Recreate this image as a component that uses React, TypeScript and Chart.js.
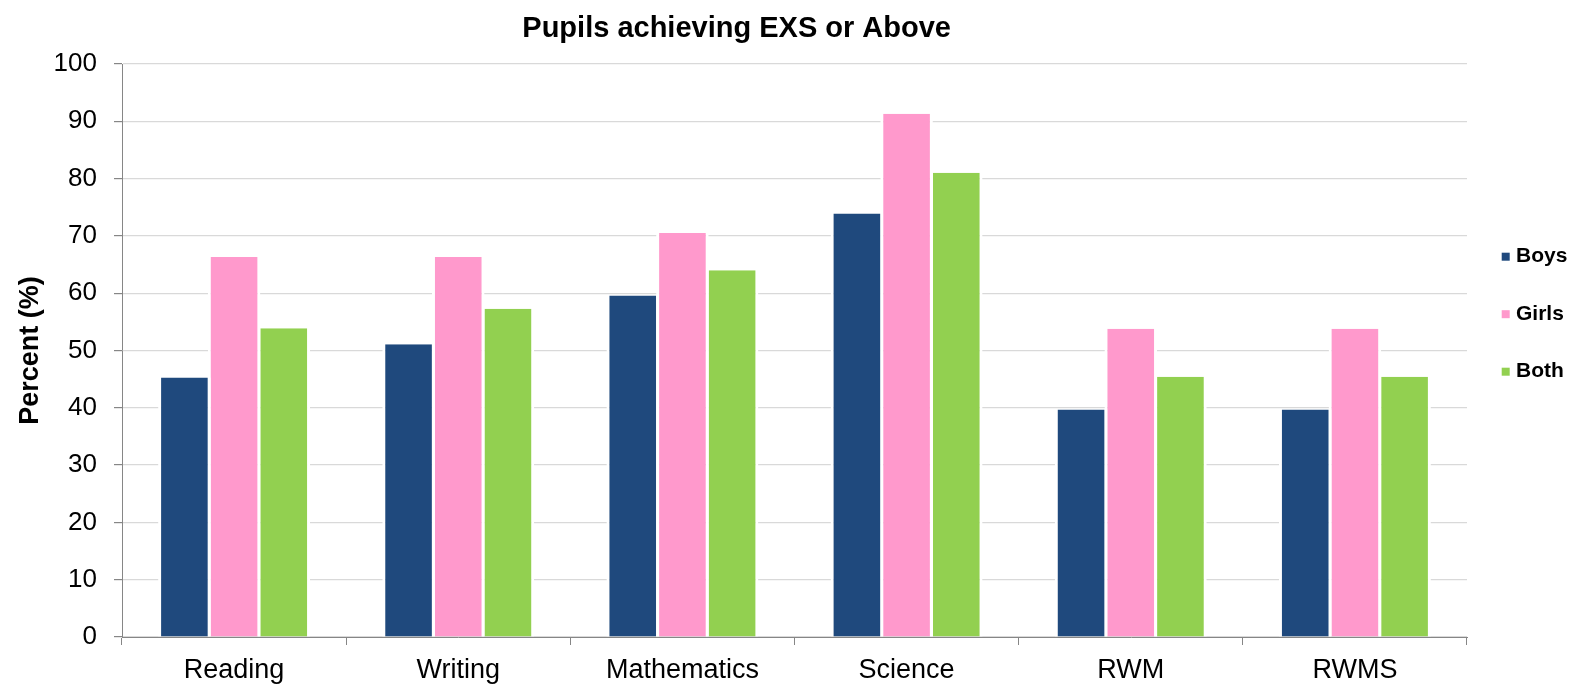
import React, { useEffect, useRef } from 'react';
import { Chart, registerables } from 'chart.js';

Chart.register(...registerables);

const categories = ['Reading', 'Writing', 'Mathematics', 'Science', 'RWM', 'RWMS'];
const boysValues = [45.3, 51.1, 59.6, 73.9, 39.7, 39.7];
const girlsValues = [66.3, 66.3, 70.5, 91.3, 53.8, 53.8];
const bothValues = [53.9, 57.3, 64.0, 81.0, 45.4, 45.4];
const seriesLabels = ['Boys', 'Girls', 'Both'];
const seriesColors = ['#1F497D', '#FF99CC', '#92D050'];
const yMin = 0;
const yMax = 100;
const yStep = 10;
const chartTitle = 'Pupils achieving EXS or Above';
const yAxisTitle = 'Percent (%)';

const FONT = '"Liberation Sans", Arial, Helvetica, sans-serif';
const AXIS_GRAY = '#868686';

const titlePlugin = {
  id: 'customTitle',
  afterDraw(chart: any) {
    const { ctx, chartArea } = chart;
    ctx.save();
    ctx.font = `bold 29px ${FONT}`;
    ctx.fillStyle = '#000';
    ctx.textAlign = 'center';
    ctx.textBaseline = 'alphabetic';
    ctx.fillText(chartTitle, chart.width * 0.4695, chartArea.top - 27.3);
    ctx.restore();
  },
};

const legendPlugin = {
  id: 'customLegend',
  afterDraw(chart: any) {
    const { ctx, chartArea } = chart;
    const mid = (chartArea.top + chartArea.bottom) / 2 - 36.3;
    const n = chart.data.datasets.length;
    ctx.save();
    chart.data.datasets.forEach((ds: any, i: number) => {
      const cy = mid + (i - (n - 1) / 2) * 57.5;
      ctx.fillStyle = ds.backgroundColor;
      ctx.fillRect(chartArea.right + 34.7, cy - 4, 8, 8);
      ctx.font = `bold 21px ${FONT}`;
      ctx.fillStyle = '#000';
      ctx.textAlign = 'left';
      ctx.textBaseline = 'middle';
      ctx.fillText(ds.label, chartArea.right + 49, cy);
    });
    ctx.restore();
  },
};

export default function App() {
  const canvasRef = useRef<HTMLCanvasElement | null>(null);

  useEffect(() => {
    if (!canvasRef.current) return;
    const seriesValues = [boysValues, girlsValues, bothValues];
    const chart = new Chart(canvasRef.current, {
      type: 'bar',
      data: {
        labels: categories,
        datasets: seriesLabels.map((label, i) => ({
          label,
          data: seriesValues[i],
          backgroundColor: seriesColors[i],
          borderColor: '#ffffff',
          borderWidth: { left: 3, right: 3, top: 0, bottom: 0 },
          borderSkipped: false,
          categoryPercentage: 0.665,
          barPercentage: 1.058,
        })),
      },
      options: {
        responsive: false,
        animation: false,
        layout: { padding: { top: 64, right: 102, left: 0, bottom: 0 } },
        plugins: {
          legend: { display: false },
          title: { display: false },
          tooltip: { enabled: false },
        },
        scales: {
          x: {
            grid: {
              display: true,
              offset: true,
              drawOnChartArea: false,
              drawTicks: true,
              tickLength: 8,
              tickColor: AXIS_GRAY,
            },
            border: { display: true, color: AXIS_GRAY, width: 1 },
            ticks: {
              color: '#000',
              font: { family: FONT, size: 27 },
              padding: 9,
              maxRotation: 0,
            },
            afterFit: (scale: any) => {
              scale.height = 47;
            },
          },
          y: {
            min: yMin,
            max: yMax,
            ticks: {
              stepSize: yStep,
              color: '#000',
              font: { family: FONT, size: 26 },
              padding: 17,
            },
            grid: {
              color: '#d9d9d9',
              lineWidth: 1.2,
              drawTicks: true,
              tickLength: 8,
              tickColor: AXIS_GRAY,
            },
            border: { display: true, color: AXIS_GRAY, width: 1 },
            title: {
              display: true,
              text: yAxisTitle,
              color: '#000',
              font: { family: FONT, size: 27, weight: 'bold' },
              padding: { top: 14, bottom: 4 },
            },
            afterFit: (scale: any) => {
              scale.width = 122;
            },
          },
        },
      },
      plugins: [titlePlugin, legendPlugin],
    } as any);
    return () => chart.destroy();
  }, []);

  return (
    <div style={{ position: 'fixed', left: 0, top: 0, width: 1569, height: 684, background: '#fff' }}>
      <canvas ref={canvasRef} width={1569} height={684} style={{ display: 'block' }} />
    </div>
  );
}
